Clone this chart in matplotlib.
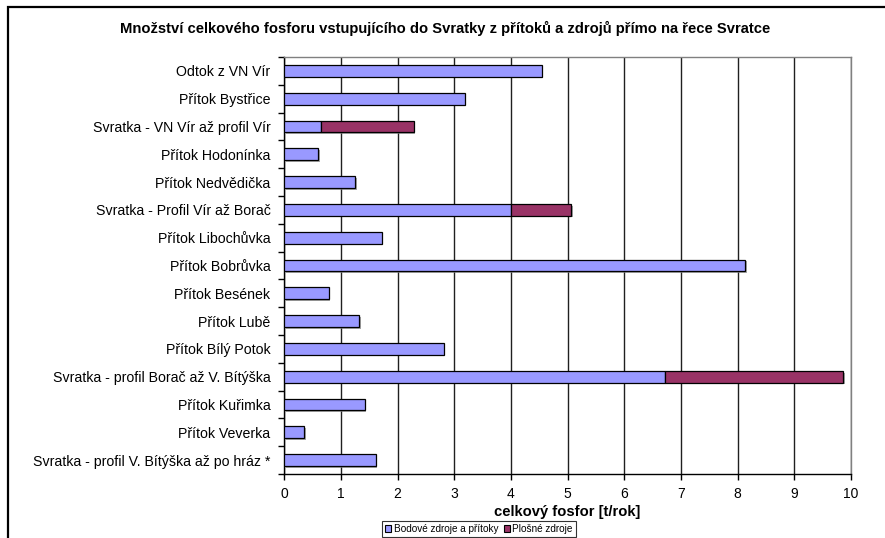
import numpy as np
import matplotlib.pyplot as plt
import matplotlib.patheffects as pe
from matplotlib.patches import Rectangle, Patch

plt.rcParams['font.family'] = ['Liberation Sans', 'DejaVu Sans']

# Sources along the river, top to bottom
categories = [
    'Odtok z VN Vír',
    'Přítok Bystřice',
    'Svratka - VN Vír až profil Vír',
    'Přítok Hodonínka',
    'Přítok Nedvědička',
    'Svratka - Profil Vír až Borač',
    'Přítok Libochůvka',
    'Přítok Bobrůvka',
    'Přítok Besének',
    'Přítok Lubě',
    'Přítok Bílý Potok',
    'Svratka - profil Borač až V. Bítýška',
    'Přítok Kuřimka',
    'Přítok Veverka',
    'Svratka - profil V. Bítýška až po hráz *',
]
# t/rok
bodove = [4.54, 3.18, 0.64, 0.60, 1.25, 4.00, 1.72, 8.13, 0.78, 1.32, 2.81, 6.72, 1.42, 0.35, 1.61]
plosne = [0, 0, 1.64, 0, 0, 1.06, 0, 0, 0, 0, 0, 3.14, 0, 0, 0]

series_names = ['Bodové zdroje a přítoky', 'Plošné zdroje']
colors = ['#9999FF', '#993366']

W, H = 885, 538
fig = plt.figure(figsize=(W / 100, H / 100), dpi=100)

# outer chart frame (runs off the right and bottom edge)
fig.patches.append(Rectangle((7.5 / W, -0.1), 2, 1 - 6.5 / H + 0.1,
                             transform=fig.transFigure, fill=False,
                             edgecolor='black', linewidth=1.6))

ax = fig.add_axes([284.3 / W, 1 - 474 / H, (851 - 284.3) / W, (474 - 57) / H])

y = np.arange(len(categories))
shadow = [pe.SimplePatchShadow(offset=(1.2, -1.2), shadow_rgbFace='#808080', alpha=0.7), pe.Normal()]
b1 = ax.barh(y, bodove, height=0.42, color=colors[0], edgecolor='black', linewidth=0.9, zorder=3)
b2 = ax.barh(y, plosne, left=bodove, height=0.42, color=colors[1], edgecolor='black', linewidth=0.9, zorder=3)
for bar, w in zip(list(b1) + list(b2), bodove + plosne):
    if w > 0:
        bar.set_path_effects(shadow)
    else:
        bar.set_visible(False)

ax.set_xlim(0, 10)
ax.set_ylim(len(categories) - 0.5, -0.5)
ax.set_xticks(np.arange(0, 11, 1))
ax.set_yticks(y)
ax.set_yticklabels(categories, fontsize=10.2)
ax.set_yticks(np.arange(-0.5, len(categories), 1), minor=True)
ax.tick_params(axis='y', which='major', length=0, pad=10)
ax.tick_params(axis='y', which='minor', length=4, width=1, direction='out')
ax.tick_params(axis='x', length=4, width=1, direction='out', labelsize=10, pad=5)
ax.xaxis.grid(True, color='#202020', linewidth=1, zorder=0)
ax.set_axisbelow(True)

for side in ['top', 'right']:
    ax.spines[side].set_color('#808080')
    ax.spines[side].set_linewidth(1)
for side in ['left', 'bottom']:
    ax.spines[side].set_color('black')
    ax.spines[side].set_linewidth(1)

ax.set_xlabel('celkový fosfor [t/rok]', fontsize=10.6, fontweight='bold', labelpad=3)

fig.text(445 / W, 1 - 28 / H,
         'Množství celkového fosforu vstupujícího do Svratky z přítoků a zdrojů přímo na řece Svratce',
         ha='center', va='center', fontsize=10.6, fontweight='bold')

handles = [Patch(facecolor=c, edgecolor='black', linewidth=0.8) for c in colors]
leg = fig.legend(handles, series_names, loc='upper left', bbox_to_anchor=(382 / W, 1 - 521 / H),
                 ncol=2, fontsize=7.2, frameon=True, fancybox=False, borderpad=0.3,
                 handlelength=0.6, handleheight=0.6, handletextpad=0.3, columnspacing=0.5,
                 borderaxespad=0)
leg.get_frame().set_edgecolor('black')
leg.get_frame().set_linewidth(0.8)

fig.savefig('out.png', dpi=100)
